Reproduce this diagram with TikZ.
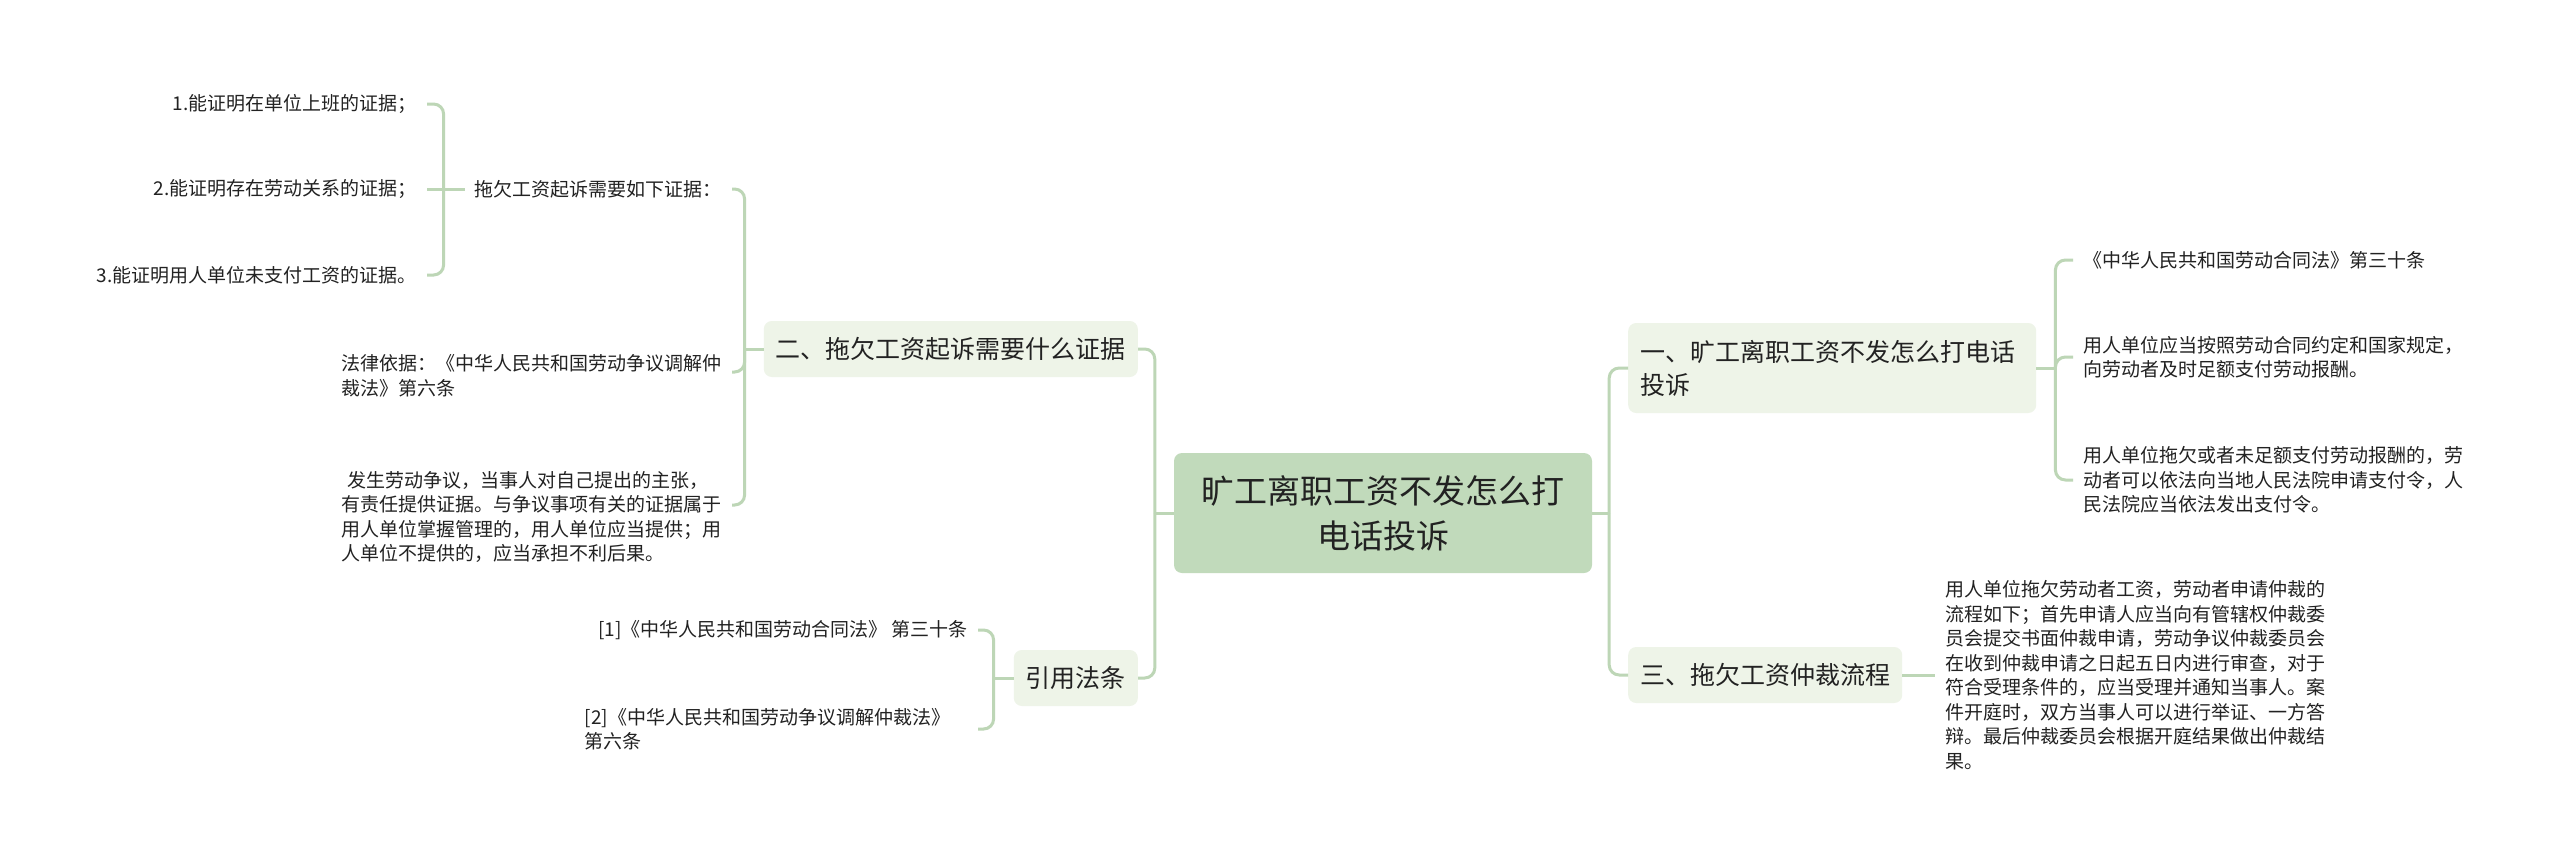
\documentclass[tikz,border=0pt]{standalone}
\usepackage{fontspec}
\setmainfont{Noto Sans CJK SC}
\definecolor{linegreen}{HTML}{BDD6B6}
\definecolor{rootgreen}{HTML}{C1DABB}
\definecolor{boxgreen}{HTML}{EEF4E8}
\definecolor{inkgray}{HTML}{222222}

\tikzstyle{every node}=[text=inkgray, inner sep=0pt]
\tikzstyle{root}=[fill=rootgreen, rounded corners=8pt, align=center, font={\fontsize{33}{45}\selectfont}, minimum width=418pt, minimum height=120pt]
\tikzstyle{topic}=[fill=boxgreen, rounded corners=8pt, font={\fontsize{25}{33}\selectfont}, minimum height=56pt, inner xsep=12pt]
\tikzstyle{leaf}=[align=left, font={\fontsize{19}{24.5}\selectfont}, inner xsep=10pt, inner ysep=2pt]
\tikzstyle{link}=[draw=linegreen, line width=3pt, rounded corners=10pt]

\begin{document}
\begin{tikzpicture}[x=1pt, y=-1pt]
    \fill [white] (0,0) rectangle (2560,867);
    \useasboundingbox (0,0) rectangle (2560,867);

    % centre
    \node [root] (root) at (1383,513) {旷工离职工资不发怎么打\\电话投诉};

    % right side
    \node [topic, anchor=west, text width=384pt, align=left, minimum height=90pt] (yi) at (1628,368) {一、旷工离职工资不发怎么打电话\\投诉};
    \node [topic, anchor=west, minimum width=270pt] (san) at (1628,675) {三、拖欠工资仲裁流程};

    \node [leaf, anchor=west] (ht) at (2073,260) {《中华人民共和国劳动合同法》第三十条};
    \node [leaf, anchor=west] (bc) at (2073,357) {用人单位应当按照劳动合同约定和国家规定，\\向劳动者及时足额支付劳动报酬。};
    \node [leaf, anchor=west] (zfl) at (2073,480) {用人单位拖欠或者未足额支付劳动报酬的，劳\\动者可以依法向当地人民法院申请支付令，人\\民法院应当依法发出支付令。};
    \node [leaf, anchor=west] (lc) at (1935,675) {用人单位拖欠劳动者工资，劳动者申请仲裁的\\流程如下；首先申请人应当向有管辖权仲裁委\\员会提交书面仲裁申请，劳动争议仲裁委员会\\在收到仲裁申请之日起五日内进行审查，对于\\符合受理条件的，应当受理并通知当事人。案\\件开庭时，双方当事人可以进行举证、一方答\\辩。最后仲裁委员会根据开庭结果做出仲裁结\\果。};

    % left side
    \node [topic, anchor=east, minimum width=371pt] (er) at (1138,349) {二、拖欠工资起诉需要什么证据};
    \node [topic, anchor=east, minimum width=123pt] (yin) at (1138,678) {引用法条};

    \node [leaf, anchor=east] (rx) at (732,189) {拖欠工资起诉需要如下证据：};
    \node [leaf, anchor=east] (yj) at (732,376) {法律依据：《中华人民共和国劳动争议调解仲\\裁法》第六条};
    \node [leaf, anchor=east] (fs) at (732,517) {\hspace*{6pt}发生劳动争议，当事人对自己提出的主张，\\有责任提供证据。与争议事项有关的证据属于\\用人单位掌握管理的，用人单位应当提供；用\\人单位不提供的，应当承担不利后果。};

    \node [leaf, anchor=east] (z1) at (427,104) {1.能证明在单位上班的证据；};
    \node [leaf, anchor=east] (z2) at (427,189) {2.能证明存在劳动关系的证据；};
    \node [leaf, anchor=east] (z3) at (427,275) {3.能证明用人单位未支付工资的证据。};

    \node [leaf, anchor=east] (ft1) at (978,630) {[1]《中华人民共和国劳动合同法》 第三十条};
    \node [leaf, anchor=east, text width=383pt] (ft2) at (978,729) {[2]《中华人民共和国劳动争议调解仲裁法》\\第六条};

    % connectors
    \draw [link] (root.east) -- ++(17,0) coordinate (rj);
    \draw [link] (rj) |- (yi.west);
    \draw [link] (rj) |- (san.west);
    \draw [link] (root.west) -- ++(-19,0) coordinate (lj);
    \draw [link] (lj) |- (er.east);
    \draw [link] (lj) |- (yin.east);

    \draw [link] (yi.east) -- ++(19,0) coordinate (yij);
    \draw [link] (yij) |- (ht.west);
    \draw [link] (yij) |- (bc.west);
    \draw [link] (yij) |- (zfl.west);
    \draw [link] (san.east) -- (lc.west);

    \draw [link] (er.west) -- ++(-19,0) coordinate (erj);
    \draw [link] (erj) |- (rx.east);
    \draw [link] (erj) |- ([yshift=4pt]yj.east);
    \draw [link] (erj) |- ([yshift=12pt]fs.east);
    \draw [link] (rx.west) -- ++(-21,0) coordinate (rxj);
    \draw [link] (rxj) |- (z1.east);
    \draw [link] (rxj) -- (z2.east);
    \draw [link] (rxj) |- (z3.east);

    \draw [link] (yin.west) -- ++(-20,0) coordinate (yinj);
    \draw [link] (yinj) |- (ft1.east);
    \draw [link] (yinj) |- (ft2.east);
\end{tikzpicture}
\end{document}
